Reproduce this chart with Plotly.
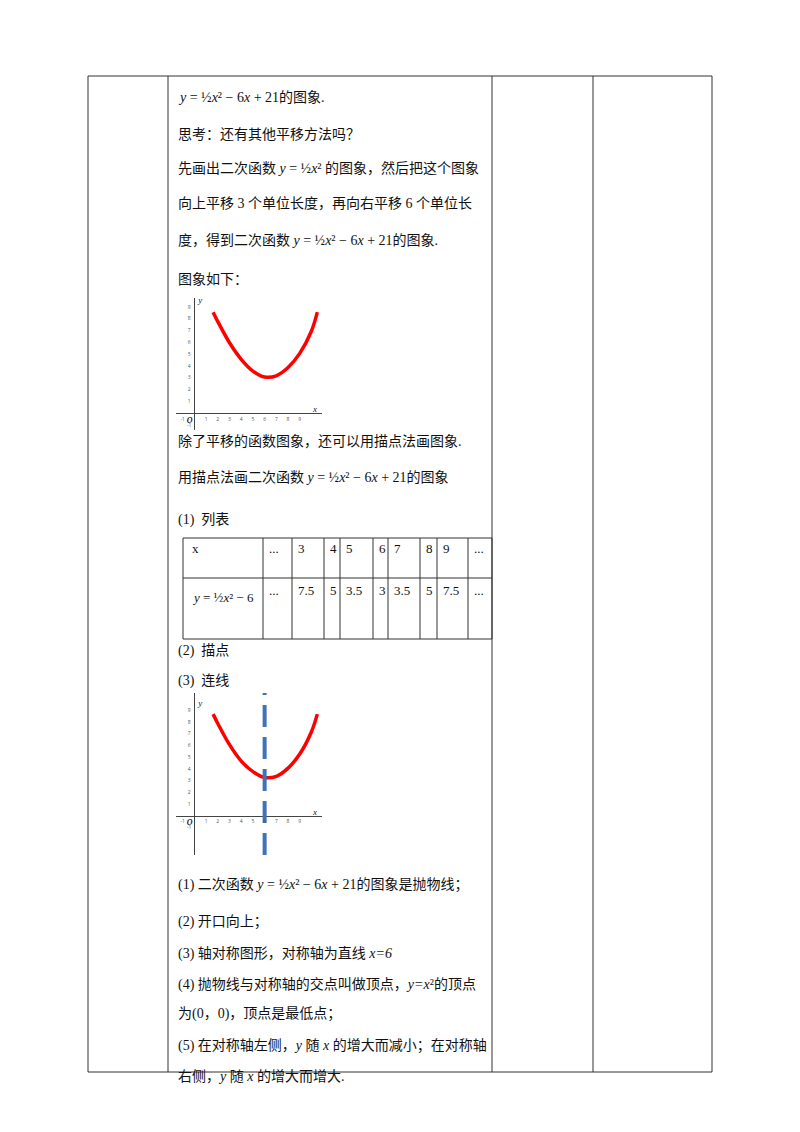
import plotly.graph_objects as go

W, H = 800, 1132

# curve points
curve1_x = [1.6, 2, 3, 4, 5, 6, 7, 8, 9, 10, 10.5]
curve1_y = [8.6, 7.8, 6.0, 4.6, 3.6, 3.1, 3.2, 3.9, 5.1, 7.0, 8.6]
curve2_x = [1.6, 2, 3, 4, 5, 6, 7, 8, 9, 10, 10.5]
curve2_y = [8.7, 7.9, 6.1, 4.7, 3.8, 3.3, 3.4, 4.1, 5.3, 7.2, 8.7]
axis_ticks = [-1, 1, 2, 3, 4, 5, 6, 7, 8, 9]
sym_axis_x = 6

# list table
table_x = ["x", "...", "3", "4", "5", "6", "7", "8", "9", "..."]
table_y = ["<i>y</i> = ½<i>x</i>² − 6", "...", "7.5", "5", "3.5", "3", "3.5", "5", "7.5", "..."]
table_cols = [183, 263, 292, 324, 340, 373, 388, 420, 437, 468, 492]

lines = [
    (97, "<i>y</i> = ½<i>x</i>² − 6<i>x</i> + 21的图象."),
    (134, "思考：还有其他平移方法吗？"),
    (168, "先画出二次函数 <i>y</i> = ½<i>x</i>² 的图象，然后把这个图象"),
    (203, "向上平移 3 个单位长度，再向右平移 6 个单位长"),
    (240, "度，得到二次函数 <i>y</i> = ½<i>x</i>² − 6<i>x</i> + 21的图象."),
    (279, "图象如下："),
    (441, "除了平移的函数图象，还可以用描点法画图象."),
    (477, "用描点法画二次函数 <i>y</i> = ½<i>x</i>² − 6<i>x</i> + 21的图象"),
    (520, "(1)  列表"),
    (651, "(2)  描点"),
    (681, "(3)  连线"),
    (885, "(1) 二次函数 <i>y</i> = ½<i>x</i>² − 6<i>x</i> + 21的图象是抛物线；"),
    (922, "(2) 开口向上；"),
    (953, "(3) 轴对称图形，对称轴为直线 <i>x=6</i>"),
    (984, "(4) 抛物线与对称轴的交点叫做顶点，<i>y=x</i>²的顶点"),
    (1014, "为(0，0)，顶点是最低点；"),
    (1046, "(5) 在对称轴左侧，<i>y</i> 随 <i>x</i> 的增大而减小；在对称轴"),
    (1076, "右侧，<i>y</i> 随 <i>x</i> 的增大而增大."),
]

# page pixel -> paper (the page body adds an 8px offset)
def px(x):
    return (x - 8) / W


def py(y):
    return 1 - (y - 8) / H


fig = go.Figure()
FONT = "Liberation Serif, Noto Sans CJK SC"

# graph 1
fig.add_trace(go.Scatter(x=curve1_x, y=curve1_y, mode="lines", line=dict(color="red", width=3.5, shape="spline"),
                         xaxis="x", yaxis="y", showlegend=False))
# graph 2
fig.add_trace(go.Scatter(x=curve2_x, y=curve2_y, mode="lines", line=dict(color="red", width=3.5, shape="spline"),
                         xaxis="x2", yaxis="y2", showlegend=False))
fig.add_trace(go.Scatter(x=[sym_axis_x, sym_axis_x], y=[-3.3, 10.5], mode="lines",
                         line=dict(color="#3f73b8", width=4, dash="22px,10px"),
                         xaxis="x2", yaxis="y2", showlegend=False))

for xa, ya in [("x", "y"), ("x2", "y2")]:
    fig.add_trace(go.Scatter(x=axis_ticks, y=[-0.5] * len(axis_ticks), mode="text",
                             text=[str(t) for t in axis_ticks], textfont=dict(size=5, color="#555"),
                             xaxis=xa, yaxis=ya, showlegend=False))
    fig.add_trace(go.Scatter(x=[-0.45] * len(axis_ticks), y=axis_ticks, mode="text",
                             text=[str(t) for t in axis_ticks], textfont=dict(size=5, color="#555"),
                             xaxis=xa, yaxis=ya, showlegend=False))
    fig.add_trace(go.Scatter(x=[-0.4, 10.3, 0.5], y=[-0.6, 0.3, 9.6], mode="text",
                             text=["<b><i>O</i></b>", "<i>x</i>", "<i>y</i>"],
                             textfont=dict(size=[8, 9, 9], color="#222", family="Liberation Serif"),
                             xaxis=xa, yaxis=ya, showlegend=False))

ax_common = dict(showgrid=False, showticklabels=False, zeroline=True, zerolinecolor="#444",
                 zerolinewidth=1, showline=False, ticks="")
fig.update_layout(
    width=W, height=H, margin=dict(l=0, r=0, t=0, b=0),
    plot_bgcolor="white", paper_bgcolor="white",
    xaxis=dict(domain=[px(176), px(322)], range=[-1.57, 10.9], **ax_common),
    yaxis=dict(domain=[py(430), py(298)], range=[-1.4, 9.8], **ax_common),
    xaxis2=dict(domain=[px(176), px(322)], range=[-1.57, 10.9], anchor="y2", **ax_common),
    yaxis2=dict(domain=[py(855), py(693)], range=[-3.3, 10.5], anchor="x2", **ax_common),
)

shapes = []
# outer page table
for x in [88, 168, 492, 593, 712]:
    shapes.append(dict(type="line", x0=px(x), x1=px(x), y0=py(76), y1=py(1072)))
for y in [76, 1072]:
    shapes.append(dict(type="line", x0=px(88), x1=px(712), y0=py(y), y1=py(y)))
# inner list table
for x in table_cols:
    shapes.append(dict(type="line", x0=px(x), x1=px(x), y0=py(538), y1=py(639)))
for y in [538, 578, 639]:
    shapes.append(dict(type="line", x0=px(183), x1=px(492), y0=py(y), y1=py(y)))
for s in shapes:
    s.update(xref="paper", yref="paper", line=dict(color="#333", width=1))
fig.update_layout(shapes=shapes)

anns = []


def add_text(x, y, t, size):
    anns.append(dict(x=px(x), y=py(y), xref="paper", yref="paper", text=t, xanchor="left",
                     yanchor="middle", showarrow=False, font=dict(size=size, color="#111", family=FONT)))


for y, t in lines:
    add_text(176, y, t, 14)
for i in range(len(table_x)):
    left = table_cols[i] + 4 if i != 0 else 190
    add_text(left, 548, table_x[i], 13)
    add_text(left, 590 if i != 0 else 597, table_y[i], 13)
fig.update_layout(annotations=anns)

fig.write_html("out.html")
